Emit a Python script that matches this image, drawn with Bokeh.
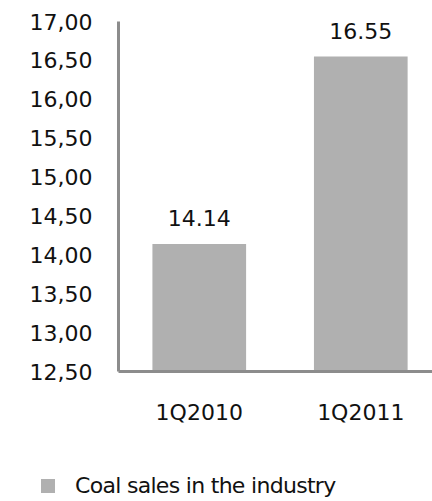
from bokeh.plotting import figure
from bokeh.models import ColumnDataSource, Range1d, FixedTicker, LabelSet, Div
from bokeh.layouts import column
from bokeh.core.properties import value
from bokeh.embed import file_html
from bokeh.resources import INLINE
import numpy as np

# Quarterly coal sales in the industry
quarters = ["1Q2010", "1Q2011"]
coal_sales = [14.14, 16.55]
series_name = "Coal sales in the industry"

# Value axis ticks and their labels (comma as the decimal separator)
y_ticks = [12.5, 13.0, 13.5, 14.0, 14.5, 15.0, 15.5, 16.0, 16.5, 17.0]
y_tick_labels = ["12,50", "13,00", "13,50", "14,00", "14,50",
                 "15,00", "15,50", "16,00", "16,50", "17,00"]

FONT = "DejaVu Sans"
FONT_SIZE = "22px"
TEXT_COLOR = "#111111"
BAR_COLOR = "#b0b0b0"
AXIS_COLOR = "#8c8c8c"

x_pos = (np.arange(len(quarters)) + 0.5).tolist()
source = ColumnDataSource(data=dict(
    x=x_pos,
    value=coal_sales,
    label=[f"{v:.2f}" for v in coal_sales],
))

# Main bar chart
p = figure(width=432, height=460, output_backend="svg", toolbar_location=None,
           x_range=Range1d(0, 1.944), y_range=Range1d(12.5, 17.0),
           min_border_left=118, min_border_right=0,
           min_border_top=21, min_border_bottom=89)
p.outline_line_color = None
p.grid.visible = False
p.background_fill_color = None
p.border_fill_color = "white"

p.vbar(x="x", top="value", bottom=12.5, width=0.58, source=source,
       fill_color=BAR_COLOR, line_color=None)

labels = LabelSet(x="x", y="value", text="label", source=source,
                  text_align="center", text_baseline="alphabetic", y_offset=18,
                  text_font=value(FONT), text_font_size=value(FONT_SIZE),
                  text_color=TEXT_COLOR)
p.add_layout(labels)

p.yaxis.ticker = FixedTicker(ticks=y_ticks)
p.yaxis.major_label_overrides = dict(zip(y_ticks, y_tick_labels))
p.xaxis.ticker = FixedTicker(ticks=x_pos)
p.xaxis.major_label_overrides = dict(zip(x_pos, quarters))
for ax in (p.xaxis, p.yaxis):
    ax.axis_line_color = AXIS_COLOR
    ax.axis_line_width = 3
    ax.major_tick_line_color = None
    ax.minor_tick_line_color = None
    ax.major_tick_out = 0
    ax.major_tick_in = 0
    ax.major_label_text_font = FONT
    ax.major_label_text_font_size = FONT_SIZE
    ax.major_label_text_color = TEXT_COLOR
p.yaxis.major_label_standoff = 26
p.xaxis.major_label_standoff = 28

# Series key underneath the chart: grey swatch followed by the series name
key_html = (
    '<div style="display:flex;align-items:center;height:26px;'
    'margin-top:13px;margin-left:41px;">'
    f'<span style="display:inline-block;width:14px;height:14px;'
    f'background:{BAR_COLOR};margin-right:20px;"></span>'
    '<span style="line-height:26px;white-space:nowrap;letter-spacing:-0.7px;">'
    f'{series_name}</span>'
    '</div>'
)
key = Div(text=key_html, width=432, height=41, margin=0,
          styles={"font-family": FONT, "font-size": FONT_SIZE,
                  "color": TEXT_COLOR, "background": "white"})

layout = column(p, key, spacing=0)
open("out.html", "w").write(file_html(layout, INLINE))
